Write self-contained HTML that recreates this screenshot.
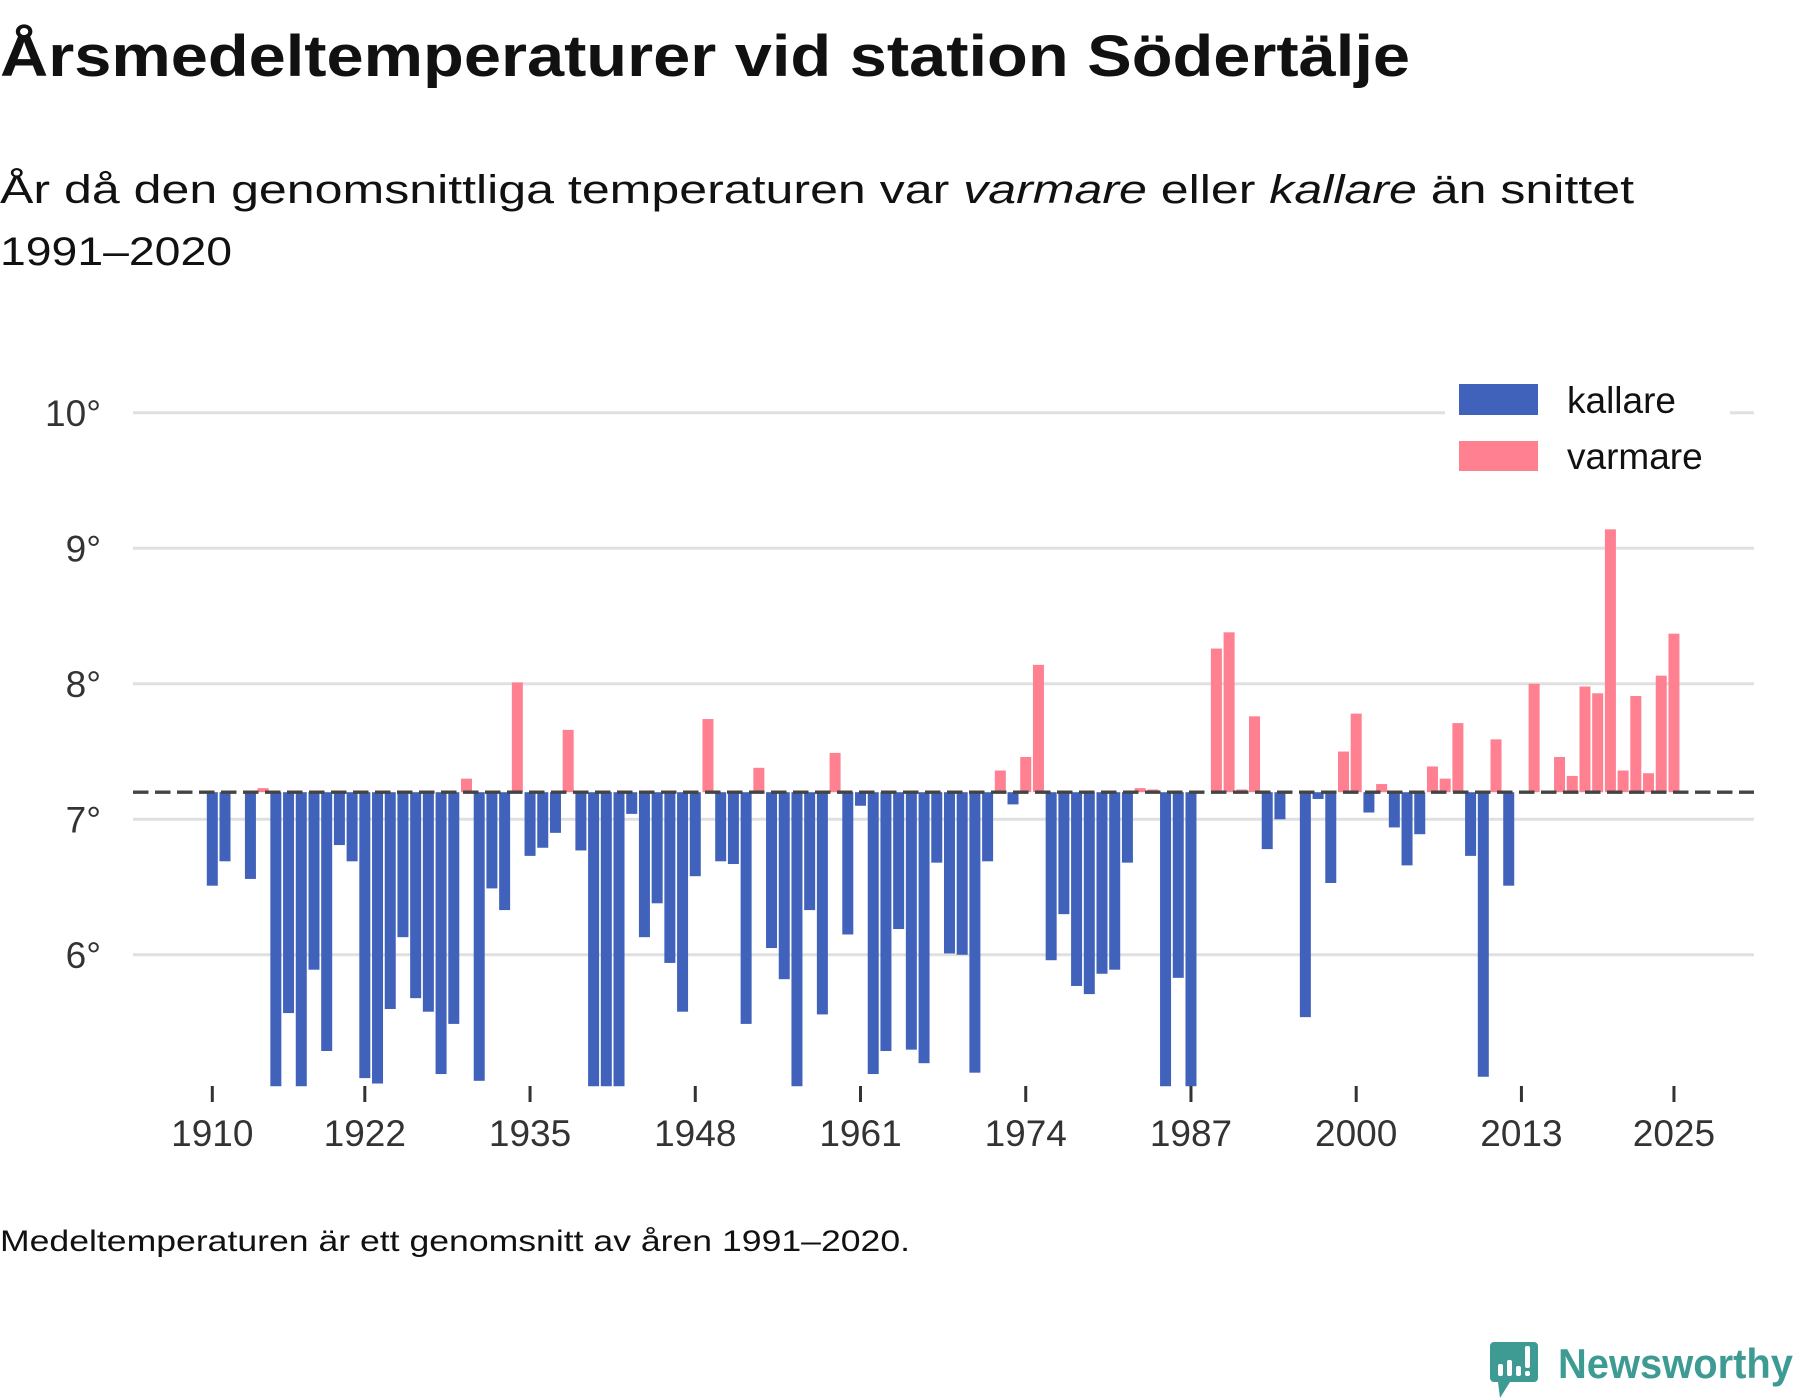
<!DOCTYPE html>
<html><head><meta charset="utf-8">
<style>
html,body{margin:0;padding:0;background:#fff;}
svg{display:block;font-family:"Liberation Sans",sans-serif;}
</style></head>
<body>
<svg id="chart" width="1800" height="1400" viewBox="0 0 1800 1400" xmlns="http://www.w3.org/2000/svg">
  <text x="0" y="76" font-size="58" font-weight="bold" fill="#111" textLength="1410" lengthAdjust="spacingAndGlyphs">Årsmedeltemperaturer vid station Södertälje</text>
  <text x="0" y="203" font-size="40" fill="#111" textLength="1634" lengthAdjust="spacingAndGlyphs">År då den genomsnittliga temperaturen var <tspan font-style="italic">varmare</tspan> eller <tspan font-style="italic">kallare</tspan> än snittet</text>
  <text x="0" y="265" font-size="40" fill="#111" textLength="232" lengthAdjust="spacingAndGlyphs">1991–2020</text>
  <g id="grid"></g>
  <g id="bars"></g>
  <g id="xaxis"></g>
  <g id="yaxis"></g>
  <g id="legend">
    <rect x="1445" y="374" width="285" height="108" fill="#fff"/>
    <rect x="1459" y="384" width="79" height="31" fill="#4062bb"/>
    <text x="1567" y="413" font-size="37" fill="#111">kallare</text>
    <rect x="1459" y="441" width="79" height="30" fill="#ff8091"/>
    <text x="1567" y="469" font-size="37" fill="#111">varmare</text>
  </g>
  <text x="0" y="1251" font-size="30" fill="#111" textLength="910" lengthAdjust="spacingAndGlyphs">Medeltemperaturen är ett genomsnitt av åren 1991–2020.</text>
  <g>
    <path d="M1494 1342 h40 a4 4 0 0 1 4 4 v32 a4 4 0 0 1 -4 4 h-24 l-10 16 l-2 -16 h-4 a4 4 0 0 1 -4 -4 v-32 a4 4 0 0 1 4 -4z" fill="#3d9b93"/>
    <rect x="1498" y="1364" width="5" height="12" rx="2" fill="#fff"/>
    <rect x="1507" y="1360" width="5" height="16" rx="2" fill="#fff"/>
    <rect x="1516" y="1366" width="5" height="10" rx="2" fill="#fff"/>
    <rect x="1525" y="1346" width="5" height="22" rx="2" fill="#fff"/>
    <rect x="1525" y="1371" width="5" height="5" rx="2" fill="#fff"/>
    <text x="1558" y="1378" font-size="42" font-weight="bold" fill="#3d9b93" textLength="235" lengthAdjust="spacingAndGlyphs">Newsworthy</text>
  </g>
</svg>
<script>
const years = [];
for (let y = 1910; y <= 2025; y++) years.push(y);
const temps = [
6.51,6.69,null,6.56,7.23,5.0,5.57,5.0,5.89,5.29,
6.81,6.69,5.09,5.05,5.60,6.13,5.68,5.58,5.12,5.49,
7.30,5.07,6.49,6.33,8.01,6.73,6.79,6.90,7.66,6.77,
5.0,5.0,5.0,7.04,6.13,6.38,5.94,5.58,6.58,7.74,
6.69,6.67,5.49,7.38,6.05,5.82,5.0,6.33,5.56,7.49,
6.15,7.10,5.12,5.29,6.19,5.30,5.20,6.68,6.01,6.00,
5.13,6.69,7.36,7.11,7.46,8.14,5.96,6.30,5.77,5.71,
5.86,5.89,6.68,7.23,7.22,5.0,5.83,5.0,null,8.26,
8.38,7.22,7.76,6.78,7.00,null,5.54,7.15,6.53,7.50,
7.78,7.05,7.26,6.94,6.66,6.89,7.39,7.30,7.71,6.73,
5.10,7.59,6.51,null,8.00,null,7.46,7.32,7.98,7.93,
9.14,7.36,7.91,7.34,8.06,8.37];
const baseline = 7.2;
const yTicks = [6, 7, 8, 9, 10];
const yTickLabels = ["6°", "7°", "8°", "9°", "10°"];
const xTicks = [1910, 1922, 1935, 1948, 1961, 1974, 1987, 2000, 2013, 2025];

const NS = "http://www.w3.org/2000/svg";
const yMin = 5.03;
function xScale(yr) { return 212.3 + (yr - 1910) * 12.71; }
function yScale(v) { return 819.3 - (v - 7) * 135.5; }
function mk(tag, attrs, parent) {
  const e = document.createElementNS(NS, tag);
  for (const k in attrs) e.setAttribute(k, attrs[k]);
  parent.appendChild(e);
  return e;
}
const grid = document.getElementById('grid');
const yaxis = document.getElementById('yaxis');
yTicks.forEach((t, i) => {
  const l = mk('line', {x1: 133, x2: 1754, y1: yScale(t), y2: yScale(t), stroke: '#e0e0e0', 'stroke-width': 3}, grid);
  
  
  const tx = mk('text', {x: 101, y: yScale(t) + 13, 'font-size': 37, fill: '#333', 'text-anchor': 'end'}, yaxis);
  tx.textContent = yTickLabels[i];
  
  
});
const bars = document.getElementById('bars');
years.forEach((yr, i) => {
  const v = temps[i];
  if (v === null) return;
  const cv = Math.max(v, yMin);
  const y0 = yScale(baseline), y1 = yScale(cv);
  const r = mk('rect', {x: xScale(yr) - 5.5, y: Math.min(y0, y1), width: 11, height: Math.abs(y1 - y0), fill: v >= baseline ? '#ff8091' : '#4062bb'}, bars);
  
  
});
const dl = mk('line', {x1: 133, x2: 1754, y1: yScale(baseline), y2: yScale(baseline), stroke: '#444', 'stroke-width': 3.3, 'stroke-dasharray': '15.5 6.5'}, bars);


const xaxis = document.getElementById('xaxis');
xTicks.forEach(t => {
  const tk = mk('line', {x1: xScale(t), x2: xScale(t), y1: 1086, y2: 1102, stroke: '#333', 'stroke-width': 3}, xaxis);
  
  
  const tx = mk('text', {x: xScale(t), y: 1146, 'font-size': 37, fill: '#333', 'text-anchor': 'middle'}, xaxis);
  tx.textContent = t;
  
  
});
</script>
</body></html>
